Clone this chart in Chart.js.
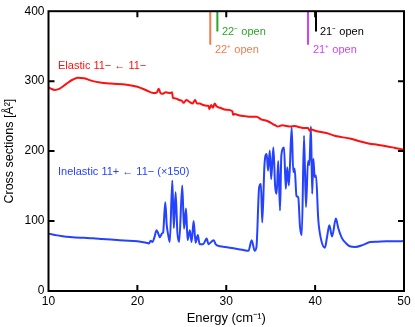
<!DOCTYPE html>
<html>
<head>
<meta charset="utf-8">
<script src="https://cdn.jsdelivr.net/npm/chart.js@4/dist/chart.umd.min.js"></script>
<style>
  html, body { margin: 0; padding: 0; background: #fff; }
  #wrap { width: 415px; height: 327px; }
</style>
</head>
<body>
<div id="wrap"><canvas id="chart"></canvas></div>
<script>
// ---------------------------------------------------------
// Data
// ---------------------------------------------------------
const xTicks = [10, 20, 30, 40, 50];
const yTicks = [0, 100, 200, 300, 400];

// elastic 11- <- 11-
const elasticE = [10, 10.3, 10.7, 11.2, 12, 12.7, 13.3, 14, 15, 15.8, 17, 18.8, 20, 21, 21.8, 22.2, 22.4, 22.6, 22.8,
  23.2, 23.7, 23.9, 24.0, 24.4, 24.7, 25.0, 25.2, 25.5, 25.9, 26.2, 26.5, 26.7, 27.0, 27.4, 27.8, 28.0, 28.1, 28.3,
  28.5, 28.7, 28.9, 29.3, 30.0, 30.7, 30.75, 30.9, 31.5, 32.1, 32.8, 33.4, 34.0, 34.35, 34.8, 35.2, 35.5, 35.8, 36.3,
  36.8, 37.2, 37.7, 38.3, 38.8, 39.2, 39.4, 39.6, 40.0, 40.8, 41.5, 42.2, 43.0, 43.9, 45.0, 46.0, 47.0, 48.0, 49.0, 50];
const elasticCS = [291, 289, 287.5, 289, 296, 302, 305, 304, 300, 298, 296.5, 295, 292, 287, 283, 284, 289, 283, 282,
  284, 283, 284, 276, 275, 273, 272, 269, 273, 270, 268, 273, 268, 268, 266, 265, 265, 260, 266,
  262, 268, 264, 262, 259, 257, 252, 253, 251, 250, 249, 249, 245, 244, 242, 239, 237, 235, 237,
  236, 235, 236, 234, 233, 233, 229, 231, 229, 227, 225, 222, 220, 218, 214, 211, 209, 207, 204.5, 202];

// inelastic 11+ <- 11- (x150)
const inelasticE = [10, 11, 12, 13, 14, 15, 16, 17, 18, 19, 20, 21, 21.3, 21.5, 21.7, 21.9, 22.17, 22.35, 22.54, 22.75,
  22.9, 23.14, 23.3, 23.47, 23.65, 23.93, 24.1, 24.3, 24.5, 24.7, 25.05, 25.25, 25.47, 25.65, 25.9, 26.1, 26.33, 26.55,
  26.8, 27.0, 27.4, 27.8, 28.0, 28.3, 28.6, 28.8, 29.3, 29.85, 30.8, 31.8, 32.5, 32.86, 33.2, 33.4, 33.7, 33.9, 34.05,
  34.3, 34.55, 34.7, 34.9, 35.05, 35.3, 35.5, 35.67, 35.85, 36.05, 36.2, 36.5, 36.7, 36.86, 37.05, 37.36, 37.54, 37.7,
  37.9, 38.1, 38.3, 38.5, 38.75, 38.97, 39.2, 39.35, 39.53, 39.67, 39.8, 39.95, 40.1, 40.35, 40.7, 41.1, 41.35, 41.6,
  41.9, 42.34, 42.6, 43.0, 43.5, 43.9, 44.5, 45.4, 46.2, 47, 48, 49, 50];
const inelasticCS = [82, 79.5, 77.5, 76.5, 76, 75.5, 74.5, 73.5, 72.5, 72, 71, 69, 68, 72, 70, 76, 87, 82, 77, 82,
  84, 127, 95, 80, 70, 158, 90, 141, 84, 70, 151, 89, 118, 73, 87, 70, 100, 69,
  80, 67, 67, 75, 67, 70, 72.6, 67, 64, 63, 61, 59, 57.4, 72.6, 57.4, 63, 148, 153, 98,
  180, 196, 172, 201, 160, 205, 150, 139, 186, 115, 194, 205, 146, 177, 151, 234, 170, 175,
  136, 134, 91.5, 80, 222, 120, 186, 180, 235, 139, 189, 163, 165, 103, 72, 62, 78, 94,
  78, 103.5, 90, 76, 68, 64, 63, 66, 70, 70.5, 71, 71, 71.5];

// channel openings drawn from the top of the frame
const openE = [28.2, 29.0, 39.2, 40.1];
const openBottom = [352, 371, 352, 371];
const openLabels = ["22\u207A open", "22\u207B open", "21\u207A open", "21\u207B open"];
const openColors = ["#f57a4c", "#2ca52a", "#cc44f5", "#000000"];

const RED = "#ff1010";
const BLUE = "#2542ff";

function pts(xs, ys) {
  return xs.map((x, i) => ({ x: x, y: ys[i] }));
}

const datasets = [
  { data: pts(elasticE, elasticCS), borderColor: RED, borderWidth: 2, cubicInterpolationMode: "monotone" },
  { data: pts(inelasticE, inelasticCS), borderColor: BLUE, borderWidth: 2, cubicInterpolationMode: "monotone" }
];
openE.forEach((e, i) => {
  datasets.push({
    data: [{ x: e, y: 400 }, { x: e, y: openBottom[i] }],
    borderColor: openColors[i], borderWidth: 2
  });
});

// ---------------------------------------------------------
// Frame, inward ticks and text labels
// ---------------------------------------------------------
const framePlugin = {
  id: "frame",
  afterDraw(chart) {
    const { ctx, chartArea: a, scales } = chart;
    const xs = scales.x, ys = scales.y;
    ctx.save();
    ctx.strokeStyle = "#000";
    ctx.lineWidth = 2;
    ctx.strokeRect(a.left, a.top, a.right - a.left, a.bottom - a.top);
    ctx.beginPath();
    xTicks.slice(1, -1).forEach(v => {
      const px = xs.getPixelForValue(v);
      ctx.moveTo(px, a.bottom); ctx.lineTo(px, a.bottom - 6);
      ctx.moveTo(px, a.top); ctx.lineTo(px, a.top + 6);
    });
    yTicks.slice(1, -1).forEach(v => {
      const py = ys.getPixelForValue(v);
      ctx.moveTo(a.left, py); ctx.lineTo(a.left + 6, py);
      ctx.moveTo(a.right, py); ctx.lineTo(a.right - 6, py);
    });
    ctx.stroke();

    ctx.font = "11px 'Liberation Sans', Arial, sans-serif";
    ctx.textBaseline = "middle";
    ctx.fillStyle = RED;
    ctx.fillText("Elastic 11\u2212 \u2190 11\u2212", 58, 66);
    ctx.fillStyle = BLUE;
    ctx.fillText("Inelastic 11+ \u2190 11\u2212 (\u00D7150)", 58, 172);

    const labelPos = [[215, 50], [222, 32], [313, 50], [320, 32]];
    openLabels.forEach((t, i) => {
      ctx.fillStyle = openColors[i];
      ctx.fillText(t, labelPos[i][0], labelPos[i][1]);
    });
    ctx.restore();
  }
};

Chart.defaults.font.family = "'Liberation Sans', Arial, sans-serif";
Chart.defaults.font.size = 12;
Chart.defaults.color = "#000";

new Chart(document.getElementById("chart"), {
  type: "line",
  data: { datasets: datasets },
  options: {
    responsive: true,
    maintainAspectRatio: false,
    animation: false,
    parsing: false,
    elements: { point: { radius: 0 } },
    layout: { padding: { left: 0, right: 11, top: 10, bottom: 0 } },
    plugins: { legend: { display: false }, tooltip: { enabled: false } },
    scales: {
      x: {
        type: "linear", min: 10, max: 50,
        grid: { display: false, drawTicks: false },
        border: { display: false },
        afterBuildTicks: s => { s.ticks = xTicks.map(v => ({ value: v })); },
        afterFit: s => { s.height = 36; },
        ticks: { padding: 3, maxRotation: 0 },
        title: { display: true, text: "Energy (cm\u207B\u00B9)", font: { size: 13 }, padding: { top: 0, bottom: 1 } }
      },
      y: {
        type: "linear", min: 0, max: 400,
        grid: { display: false, drawTicks: false },
        border: { display: false },
        afterBuildTicks: s => { s.ticks = yTicks.map(v => ({ value: v })); },
        afterFit: s => { s.width = 48.5; },
        ticks: { padding: 4 },
        title: { display: true, text: "Cross sections [\u00C5\u00B2]", font: { size: 12.5 }, padding: { top: 2, bottom: 0 } }
      }
    }
  },
  plugins: [framePlugin]
});
</script>
</body>
</html>
